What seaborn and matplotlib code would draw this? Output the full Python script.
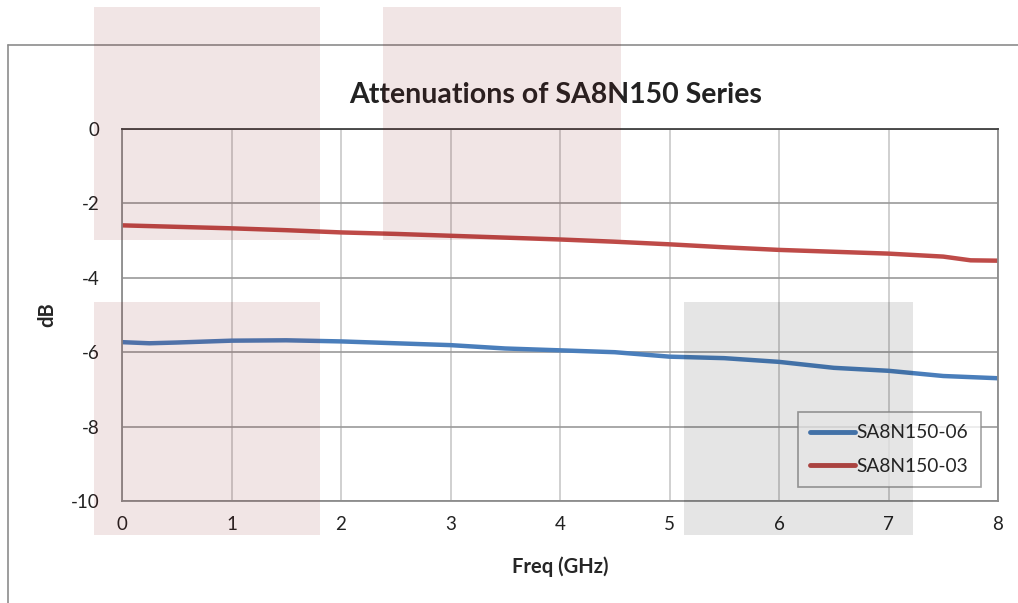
import numpy as np
import pandas as pd
import matplotlib
matplotlib.use('Agg')
import matplotlib.pyplot as plt
import seaborn as sns
from matplotlib.patches import Rectangle
from matplotlib.lines import Line2D

# values
freq_03 = [0, 0.5, 1, 1.5, 2, 2.5, 3, 3.5, 4, 4.5, 5, 5.5, 6, 6.5, 7, 7.5, 7.75, 8]
att_03 = [-2.59, -2.63, -2.67, -2.72, -2.78, -2.82, -2.87, -2.92, -2.97, -3.03,
          -3.10, -3.18, -3.25, -3.30, -3.35, -3.43, -3.53, -3.54]
freq_06 = [0, 0.25, 0.5, 1, 1.5, 2, 2.5, 3, 3.5, 4, 4.5, 5, 5.5, 6, 6.5, 7, 7.5, 8]
att_06 = [-5.73, -5.76, -5.74, -5.69, -5.68, -5.71, -5.76, -5.81, -5.90, -5.95,
          -6.00, -6.12, -6.16, -6.26, -6.42, -6.50, -6.64, -6.70]
series_names = ['SA8N150-06', 'SA8N150-03']
series_colors = ['#4a7ebb', '#be4b48']

df = pd.concat([
    pd.DataFrame({'freq': freq_06, 'dB': att_06, 'series': series_names[0]}),
    pd.DataFrame({'freq': freq_03, 'dB': att_03, 'series': series_names[1]}),
])

sns.set_style('white')
plt.rcParams['font.family'] = ['Lato', 'DejaVu Sans']
plt.rcParams['axes.unicode_minus'] = False

fig = plt.figure(figsize=(10.18, 6.03), dpi=100)
ax = fig.add_axes([122 / 1018, 1 - 501 / 603, (998 - 122) / 1018, (501 - 129) / 603])

sns.lineplot(data=df, x='freq', y='dB', hue='series', palette=series_colors,
             hue_order=series_names, linewidth=3.2, ax=ax, legend=False,
             sort=True, solid_capstyle='round')

ax.set_xlim(0, 8)
ax.set_ylim(-10, 0)
ax.set_xticks(range(0, 9))
ax.set_yticks(range(-10, 1, 2))
ax.grid(True, axis='x', color='#c8c8c8', linewidth=1.2)
ax.grid(True, axis='y', color='#9a9a9a', linewidth=1.2)
ax.set_axisbelow(True)
for side in ['left', 'bottom', 'right']:
    ax.spines[side].set_color('#8c8c8c')
    ax.spines[side].set_linewidth(1.3)
ax.spines['top'].set_color('#404040')
ax.spines['top'].set_linewidth(1.3)
ax.tick_params(axis='y', length=0, pad=16, labelsize=13.5, labelcolor='#222222')
ax.tick_params(axis='x', length=0, pad=11, labelsize=13.5, labelcolor='#222222')
ax.set_xlabel('Freq (GHz)', fontsize=14.5, fontweight='bold', labelpad=17)
ax.set_ylabel('dB', fontsize=14.5, fontweight='bold', labelpad=10)

fig.text(556 / 1018, 1 - 95 / 603, 'Attenuations of SA8N150 Series',
         ha='center', va='center', fontsize=20.5, fontweight='bold', color='#222222')

handles = [Line2D([0], [0], color=c, linewidth=3.5, solid_capstyle='round') for c in series_colors]
leg = ax.legend(handles, series_names, loc='upper left',
                bbox_to_anchor=(798 / 1018, 1 - 412 / 603), bbox_transform=fig.transFigure,
                fontsize=13.8, frameon=True, fancybox=False, handlelength=2.3,
                handletextpad=0.1, labelspacing=0.85, borderpad=0.65, borderaxespad=0)
leg.get_frame().set_edgecolor('#8c8c8c')
leg.get_frame().set_linewidth(1.2)

# chart frame, running off the image on the right and bottom
fig.add_artist(Line2D([8 / 1018, 8 / 1018], [0, 1 - 45 / 603], transform=fig.transFigure,
                      color='#8c8c8c', linewidth=1.2))
fig.add_artist(Line2D([8 / 1018, 1], [1 - 45 / 603, 1 - 45 / 603], transform=fig.transFigure,
                      color='#8c8c8c', linewidth=1.2))

# shaded blocks over the chart
blocks = [(94, 7, 320, 240, '#7d0505'), (383, 7, 621, 240, '#7d0505'),
          (94, 302, 320, 535, '#7d0505'), (684, 302, 913, 535, '#000000')]
for x0, y0, x1, y1, c in blocks:
    fig.add_artist(Rectangle((x0 / 1018, 1 - y1 / 603), (x1 - x0) / 1018, (y1 - y0) / 603,
                             transform=fig.transFigure, facecolor=c, alpha=0.1,
                             edgecolor='none', zorder=10))

fig.savefig('out.png', dpi=100)
